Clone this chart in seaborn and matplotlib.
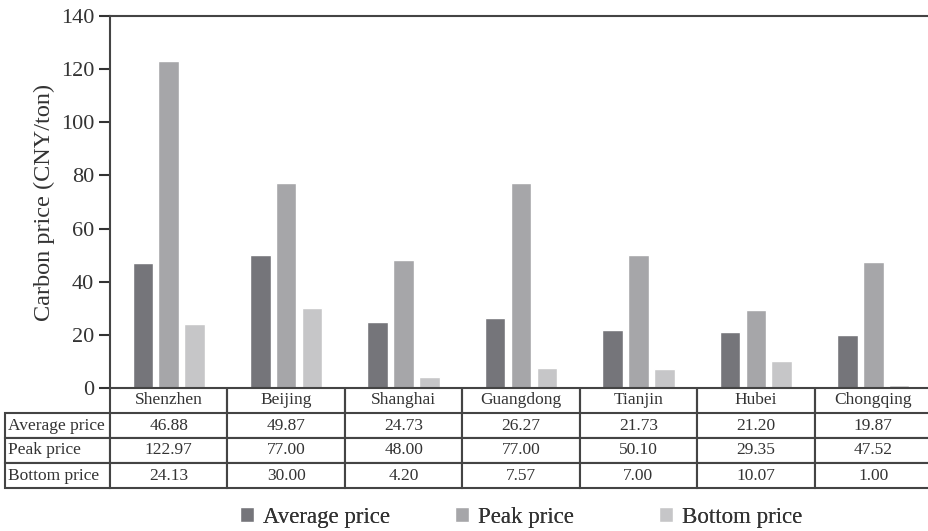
import pandas as pd
import matplotlib.pyplot as plt
import seaborn as sns

cities = ['Shenzhen', 'Beijing', 'Shanghai', 'Guangdong', 'Tianjin', 'Hubei', 'Chongqing']
average_price = [46.88, 49.87, 24.73, 26.27, 21.73, 21.20, 19.87]
peak_price = [122.97, 77.00, 48.00, 77.00, 50.10, 29.35, 47.52]
bottom_price = [24.13, 30.00, 4.20, 7.57, 7.00, 10.07, 1.00]
series_names = ['Average price', 'Peak price', 'Bottom price']
colors = ['#75757a', '#a6a6a9', '#c6c6c8']

sns.set_style("white")
plt.rcParams['font.family'] = ['Liberation Serif', 'DejaVu Serif']
plt.rcParams['text.color'] = '#333333'

rows = []
for name, vals in zip(series_names, [average_price, peak_price, bottom_price]):
    for c, v in zip(cities, vals):
        rows.append({'City': c, 'Series': name, 'Price': v})
df = pd.DataFrame(rows)

fig = plt.figure(figsize=(9.29, 5.31), dpi=100)
ax = fig.add_axes([110 / 929, 143 / 531, 822 / 929, 372 / 531])

sns.barplot(data=df, x='City', y='Price', hue='Series', palette=colors,
            width=0.66, gap=0.2, saturation=1, ax=ax, legend=True)

ax.set_ylim(0, 140)
ax.set_xlim(-0.5, len(cities) - 0.5)
ax.set_yticks(range(0, 141, 20))
ax.tick_params(axis='y', labelsize=16, colors='#333333', length=8, width=1.5, direction='out', left=True)
ax.tick_params(axis='x', bottom=False, labelbottom=False)
ax.set_xlabel('')
ax.set_ylabel('Carbon price (CNY/ton)', fontsize=17.5, color='#333333', labelpad=4)
for side in ['left', 'top', 'bottom']:
    ax.spines[side].set_color('#444444')
    ax.spines[side].set_linewidth(1.5)
ax.spines['right'].set_visible(False)

handles, labels = ax.get_legend_handles_labels()
ax.get_legend().remove()

# data table under the bars
cell_text = [[''] + cities]
for name, vals in zip(series_names, [average_price, peak_price, bottom_price]):
    cell_text.append([name] + [f'{v:.2f}' for v in vals])
total_w = 822 + 105
col_widths = [105 / total_w] + [822 / 7 / total_w] * 7
tab = ax.table(cellText=cell_text, colWidths=col_widths, cellLoc='center',
               bbox=[-105 / 822, -100 / 372, total_w / 822, 100 / 372])
tab.auto_set_font_size(False)
tab.set_fontsize(12.5)
for (r, c), cell in tab.get_celld().items():
    cell.set_edgecolor('#444444')
    cell.set_linewidth(1.5)
    cell.get_text().set_color('#333333')
    if c == 0:
        cell.get_text().set_horizontalalignment('left')
        cell._loc = 'left'
        cell.PAD = 0.03
    if r == 0 and c == 0:
        cell.visible_edges = ''
    elif r == 0:
        cell.visible_edges = 'LR'

# one legend entry per spot, spaced like the reference
legend_x = [240 / 929, 455 / 929, 659 / 929]
for h, lab, x in zip(handles, labels, legend_x):
    leg = fig.legend([h], [lab], loc='center left', bbox_to_anchor=(x, 0.026),
                     frameon=False, fontsize=16.5, handlelength=0.6, handleheight=0.6,
                     handletextpad=0.4, borderpad=0, borderaxespad=0)
    fig.add_artist(leg)

plt.savefig('out.png', dpi=100)
